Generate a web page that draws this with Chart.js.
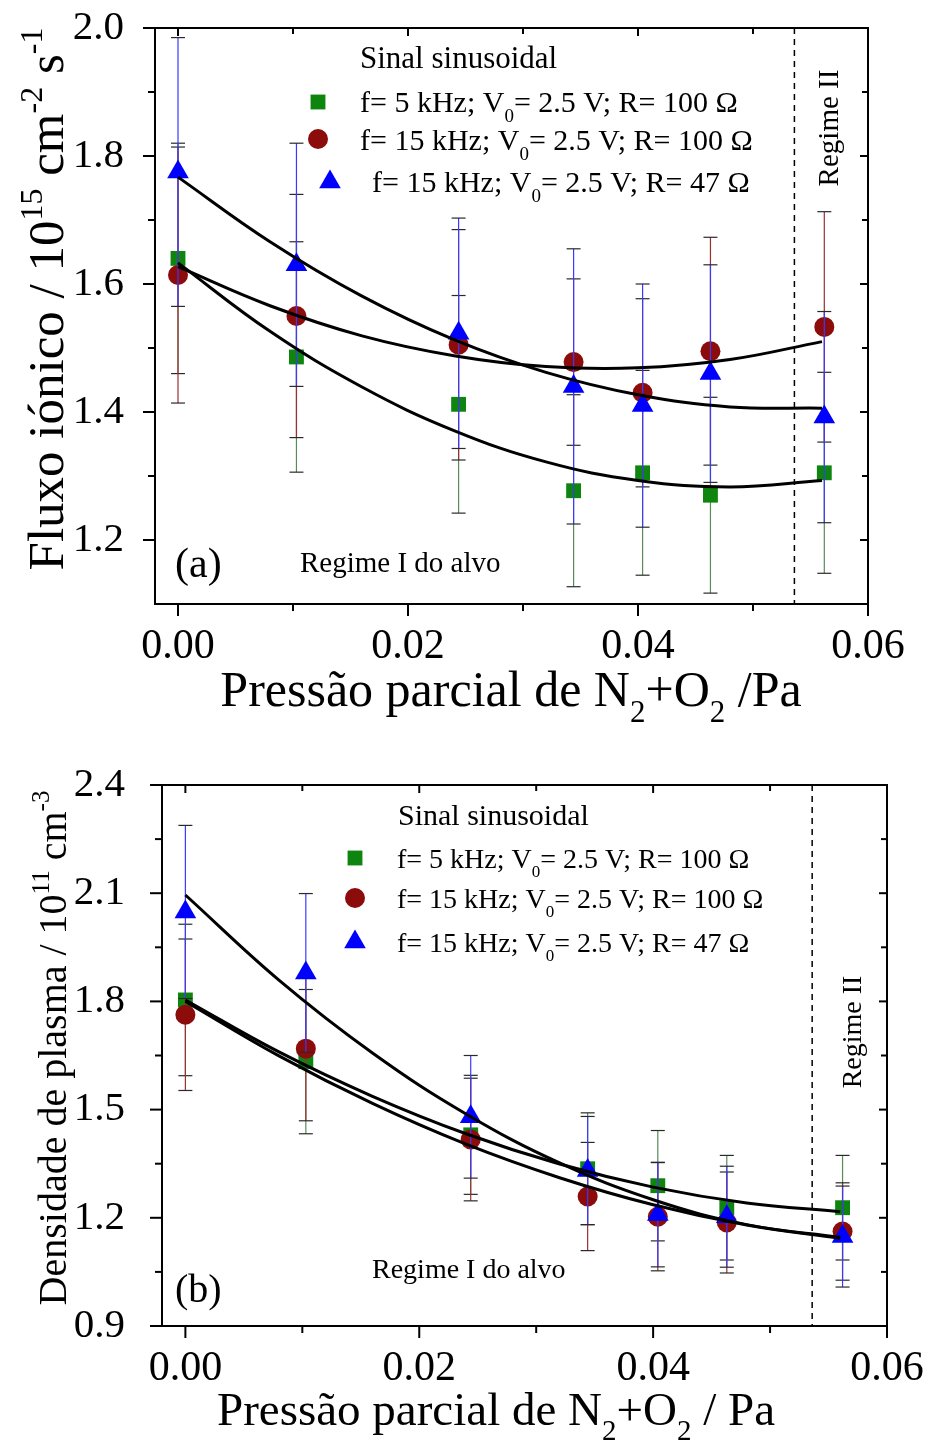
<!DOCTYPE html>
<html lang="pt">
<head>
<meta charset="utf-8">
<title>Fluxo iónico e densidade de plasma</title>
<script src="https://cdn.jsdelivr.net/npm/chart.js@4.4.1/dist/chart.umd.min.js"></script>
<style>
  html, body { margin: 0; padding: 0; background: #fff; }
  #folha { position: relative; width: 928px; height: 1443px; }
  canvas { position: absolute; left: 0; }
  #graficoA { top: 0; }
  #graficoB { top: 722px; }
</style>
</head>
<body>
<div id="folha">
  <canvas id="graficoA" width="928" height="740"></canvas>
  <canvas id="graficoB" width="928" height="721"></canvas>
</div>
<script>
// Pressão parcial de N2+O2 (Pa), igual nos dois gráficos
const pressao = [0, 0.0103, 0.0244, 0.0344, 0.0404, 0.0463, 0.0562];
// abcissas onde as curvas de ajuste foram lidas
const pressaoAjuste = [0, 0.008, 0.016, 0.024, 0.032, 0.04, 0.048, 0.056];

// (a) Fluxo iónico / 10^15 cm^-2 s^-1
const fluxo5k100 = [1.64, 1.486, 1.412, 1.277, 1.305, 1.27, 1.305];
const fluxo5k100Erro = [0.18, 0.18, 0.17, 0.15, 0.16, 0.153, 0.157];
const fluxo15k100 = [1.614, 1.55, 1.505, 1.478, 1.43, 1.495, 1.533];
const fluxo15k100Erro = [0.2, 0.19, 0.18, 0.13, 0.147, 0.178, 0.18];
const fluxo15k47 = [1.775, 1.63, 1.523, 1.44, 1.41, 1.46, 1.392];
const fluxo15k47Erro = [0.21, 0.19, 0.18, 0.215, 0.19, 0.17, 0.165];
const ajusteFluxo5k100 = [1.633, 1.526, 1.439, 1.371, 1.322, 1.293, 1.283, 1.293];
const ajusteFluxo15k100 = [1.627, 1.566, 1.519, 1.488, 1.471, 1.469, 1.482, 1.51];
const ajusteFluxo15k47 = [1.767, 1.666, 1.581, 1.513, 1.462, 1.427, 1.408, 1.406];

// (b) Densidade de plasma / 10^11 cm^-3
const dens5k100 = [1.804, 1.633, 1.43, 1.336, 1.289, 1.228, 1.228];
const dens5k100Erro = [0.21, 0.2, 0.165, 0.155, 0.153, 0.145, 0.145];
const dens15k100 = [1.763, 1.669, 1.417, 1.259, 1.203, 1.187, 1.162];
const dens15k100Erro = [0.21, 0.2, 0.17, 0.15, 0.15, 0.14, 0.135];
const dens15k47 = [2.048, 1.879, 1.48, 1.331, 1.209, 1.203, 1.148];
const dens15k47Erro = [0.24, 0.22, 0.17, 0.15, 0.145, 0.14, 0.14];
const ajusteDens5k100 = [1.804, 1.66, 1.537, 1.433, 1.349, 1.285, 1.241, 1.217];
const ajusteDens15k100 = [1.8, 1.649, 1.517, 1.404, 1.311, 1.236, 1.18, 1.143];
const ajusteDens15k47 = [2.095, 1.859, 1.657, 1.488, 1.352, 1.25, 1.181, 1.146];

const legendas = [
  'f= 5 kHz; V_{0}= 2.5 V; R= 100 Ω',
  'f= 15 kHz; V_{0}= 2.5 V; R= 100 Ω',
  'f= 15 kHz; V_{0}= 2.5 V; R= 47 Ω'
];
const ticksX = [0, 0.02, 0.04, 0.06];
const ticksXMenores = [0.01, 0.03, 0.05];
const ticksYFluxo = [1.2, 1.4, 1.6, 1.8, 2.0];
const ticksYFluxoMenores = [1.3, 1.5, 1.7, 1.9];
const ticksYDens = [0.9, 1.2, 1.5, 1.8, 2.1, 2.4];
const ticksYDensMenores = [1.05, 1.35, 1.65, 1.95, 2.25];
const limiteRegime = 0.0536; // linha tracejada entre regime I e II

const serif = '"Liberation Serif", "Times New Roman", serif';
Chart.defaults.font.family = serif;
Chart.defaults.color = '#000';

// desenha texto com _{sub} e ^{sup}
function textoRico(ctx, texto, x, y, tam, alinhar) {
  const partes = [];
  const re = /([_^])\{([^}]*)\}/g;
  let ultimo = 0, m;
  while ((m = re.exec(texto))) {
    if (m.index > ultimo) partes.push({t: texto.slice(ultimo, m.index), k: ''});
    partes.push({t: m[2], k: m[1]});
    ultimo = re.lastIndex;
  }
  if (ultimo < texto.length) partes.push({t: texto.slice(ultimo), k: ''});
  const pequeno = Math.round(tam * 0.62);
  let largura = 0;
  partes.forEach(p => {
    ctx.font = (p.k ? pequeno : tam) + 'px ' + serif;
    p.w = ctx.measureText(p.t).width;
    largura += p.w;
  });
  let cx = alinhar === 'center' ? x - largura / 2 : x;
  ctx.textBaseline = 'alphabetic';
  ctx.textAlign = 'left';
  partes.forEach(p => {
    ctx.font = (p.k ? pequeno : tam) + 'px ' + serif;
    const dy = p.k === '^' ? -tam * 0.42 : (p.k === '_' ? tam * 0.32 : 0);
    ctx.fillText(p.t, cx, y + dy);
    cx += p.w;
  });
}

function criarGrafico(id, c) {
  const marcadores = [
    {rotulo: legendas[0], dados: c.verde, erro: c.verdeErro, estilo: 'rect', raio: 10.5, cor: '#0e850e', corErro: '#5a8a5a'},
    {rotulo: legendas[1], dados: c.vermelho, erro: c.vermelhoErro, estilo: 'circle', raio: 10, cor: '#8c0c0c', corErro: '#9a3030'},
    {rotulo: legendas[2], dados: c.azul, erro: c.azulErro, estilo: 'triangle', raio: 12.5, cor: '#0000ff', corErro: '#3a3aff'}
  ];
  const pontos = (xs, ys) => xs.map((x, i) => ({x: x, y: ys[i]}));

  // ajustes primeiro no array => desenhados por cima
  const datasets = c.ajustes.map(a => ({
    type: 'line',
    data: pontos(pressaoAjuste, a),
    borderColor: '#000',
    borderWidth: 3,
    pointRadius: 0,
    tension: 0.4,
    showLine: true,
    fill: false
  }));
  marcadores.slice().reverse().forEach(m => datasets.push({
    label: m.rotulo,
    data: pontos(pressao, m.dados),
    erro: m.erro,
    corErro: m.corErro,
    pointStyle: m.estilo,
    pointRadius: m.raio,
    pointHoverRadius: m.raio,
    backgroundColor: m.cor,
    borderWidth: 0,
    showLine: false
  }));

  const linha = (ctx, x1, y1, x2, y2) => {
    ctx.beginPath(); ctx.moveTo(x1, y1); ctx.lineTo(x2, y2); ctx.stroke();
  };

  const barrasErro = {
    id: 'barrasErro',
    beforeDatasetDraw(chart, args) {
      const ds = chart.data.datasets[args.index];
      if (!ds.erro) return;
      const ctx = chart.ctx, y = chart.scales.y;
      ctx.save();
      ctx.lineWidth = 1.2;
      args.meta.data.forEach((p, i) => {
        const v = ds.data[i].y, e = ds.erro[i];
        const y1 = y.getPixelForValue(v + e), y2 = y.getPixelForValue(v - e);
        ctx.strokeStyle = ds.corErro;
        linha(ctx, p.x, y1, p.x, y2);
        ctx.strokeStyle = '#2a2a2a';
        linha(ctx, p.x - 7, y1, p.x + 7, y1);
        linha(ctx, p.x - 7, y2, p.x + 7, y2);
      });
      ctx.restore();
    }
  };

  const moldura = {
    id: 'moldura',
    beforeDatasetsDraw(chart) {
      const ctx = chart.ctx, a = chart.chartArea;
      const px = chart.scales.x.getPixelForValue(limiteRegime);
      ctx.save();
      ctx.strokeStyle = '#000';
      ctx.lineWidth = 1.5;
      ctx.setLineDash([6, 5]);
      linha(ctx, px, a.top, px, a.bottom);
      ctx.restore();
    },
    afterDatasetsDraw(chart) {
      const ctx = chart.ctx, a = chart.chartArea;
      const sx = chart.scales.x, sy = chart.scales.y;
      ctx.save();
      ctx.strokeStyle = '#000';
      ctx.lineWidth = 2;
      ctx.strokeRect(a.left, a.top, a.right - a.left, a.bottom - a.top);
      ticksX.forEach(v => {
        const x = sx.getPixelForValue(v);
        linha(ctx, x, a.bottom, x, a.bottom + 12);
        linha(ctx, x, a.top, x, a.top + 8);
      });
      ticksXMenores.forEach(v => {
        const x = sx.getPixelForValue(v);
        linha(ctx, x, a.bottom, x, a.bottom + 7);
        linha(ctx, x, a.top, x, a.top + 6);
      });
      c.ticksY.forEach(v => {
        const y = sy.getPixelForValue(v);
        linha(ctx, a.left - 12, y, a.left, y);
        linha(ctx, a.right - 8, y, a.right, y);
      });
      c.ticksYMenores.forEach(v => {
        const y = sy.getPixelForValue(v);
        linha(ctx, a.left - 7, y, a.left, y);
        linha(ctx, a.right - 6, y, a.right, y);
      });
      ctx.restore();
    },
    afterDraw(chart) {
      const ctx = chart.ctx;
      ctx.save();
      ctx.fillStyle = '#000';
      c.textos.forEach(t => {
        ctx.save();
        ctx.translate(t.x, t.y);
        if (t.rot) ctx.rotate(-Math.PI / 2);
        textoRico(ctx, t.t, 0, 0, t.tam, t.alinhar);
        ctx.restore();
      });
      marcadores.forEach((m, i) => {
        const l = c.legenda[i];
        ctx.fillStyle = m.cor;
        Chart.helpers.drawPoint(ctx, {pointStyle: m.estilo, radius: m.raio, rotation: 0, borderWidth: 0}, l.mx, l.my);
        ctx.fillStyle = '#000';
        textoRico(ctx, m.rotulo, l.tx, l.ty, c.tamLegenda, 'left');
      });
      ctx.restore();
    }
  };

  return new Chart(document.getElementById(id), {
    type: 'scatter',
    data: {datasets: datasets},
    options: {
      responsive: false,
      animation: false,
      events: [],
      layout: {padding: {left: 0, top: c.area.top, right: c.area.right, bottom: 0}},
      plugins: {legend: {display: false}, tooltip: {enabled: false}},
      scales: {
        x: {
          type: 'linear',
          min: -0.002,
          max: 0.06,
          afterBuildTicks: s => { s.ticks = ticksX.map(v => ({value: v})); },
          afterFit: s => { s.height = c.area.xAltura; s.paddingLeft = 0; s.paddingRight = 0; },
          grid: {display: false},
          border: {display: false},
          ticks: {callback: v => v.toFixed(2), font: {size: 42}, padding: 10, maxRotation: 0, autoSkip: false}
        },
        y: {
          min: c.yMin,
          max: c.yMax,
          afterBuildTicks: s => { s.ticks = c.ticksY.map(v => ({value: v})); },
          afterFit: s => { s.width = c.area.left; s.paddingTop = 0; s.paddingBottom = 0; },
          grid: {display: false},
          border: {display: false},
          ticks: {callback: v => v.toFixed(1), font: {size: 41}, padding: c.area.yPad, autoSkip: false}
        }
      }
    },
    plugins: [barrasErro, moldura]
  });
}

// (a)
criarGrafico('graficoA', {
  verde: fluxo5k100, verdeErro: fluxo5k100Erro,
  vermelho: fluxo15k100, vermelhoErro: fluxo15k100Erro,
  azul: fluxo15k47, azulErro: fluxo15k47Erro,
  ajustes: [ajusteFluxo5k100, ajusteFluxo15k100, ajusteFluxo15k47],
  yMin: 1.1, yMax: 2.0,
  ticksY: ticksYFluxo, ticksYMenores: ticksYFluxoMenores,
  area: {top: 28, right: 60, left: 155, xAltura: 136, yPad: 23},
  tamLegenda: 30,
  legenda: [
    {mx: 318, my: 102, tx: 360, ty: 112},
    {mx: 318, my: 139, tx: 360, ty: 150},
    {mx: 330, my: 182, tx: 372, ty: 192}
  ],
  textos: [
    {t: 'Sinal sinusoidal', x: 360, y: 68, tam: 31},
    {t: '(a)', x: 175, y: 577, tam: 42},
    {t: 'Regime I do alvo', x: 300, y: 572, tam: 29},
    {t: 'Regime II', x: 838, y: 128, tam: 29, rot: true, alinhar: 'center'},
    {t: 'Fluxo iónico / 10^{15} cm^{-2} s^{-1}', x: 63, y: 299, tam: 51, rot: true, alinhar: 'center'},
    {t: 'Pressão parcial de N_{2}+O_{2} /Pa', x: 511, y: 706, tam: 50, alinhar: 'center'}
  ]
});

// (b)
criarGrafico('graficoB', {
  verde: dens5k100, verdeErro: dens5k100Erro,
  vermelho: dens15k100, vermelhoErro: dens15k100Erro,
  azul: dens15k47, azulErro: dens15k47Erro,
  ajustes: [ajusteDens5k100, ajusteDens15k100, ajusteDens15k47],
  yMin: 0.9, yMax: 2.4,
  ticksY: ticksYDens, ticksYMenores: ticksYDensMenores,
  area: {top: 63, right: 41, left: 162, xAltura: 117, yPad: 29},
  tamLegenda: 28,
  legenda: [
    {mx: 355, my: 136, tx: 397, ty: 146},
    {mx: 355, my: 176, tx: 397, ty: 186},
    {mx: 355, my: 220, tx: 397, ty: 230}
  ],
  textos: [
    {t: 'Sinal sinusoidal', x: 398, y: 103, tam: 30},
    {t: '(b)', x: 175, y: 580, tam: 40},
    {t: 'Regime I do alvo', x: 372, y: 556, tam: 28},
    {t: 'Regime II', x: 861, y: 310, tam: 28, rot: true, alinhar: 'center'},
    {t: 'Densidade de plasma / 10^{11} cm^{-3}', x: 66, y: 326, tam: 40, rot: true, alinhar: 'center'},
    {t: 'Pressão parcial de N_{2}+O_{2} / Pa', x: 496, y: 703, tam: 47, alinhar: 'center'}
  ]
});
</script>
</body>
</html>
